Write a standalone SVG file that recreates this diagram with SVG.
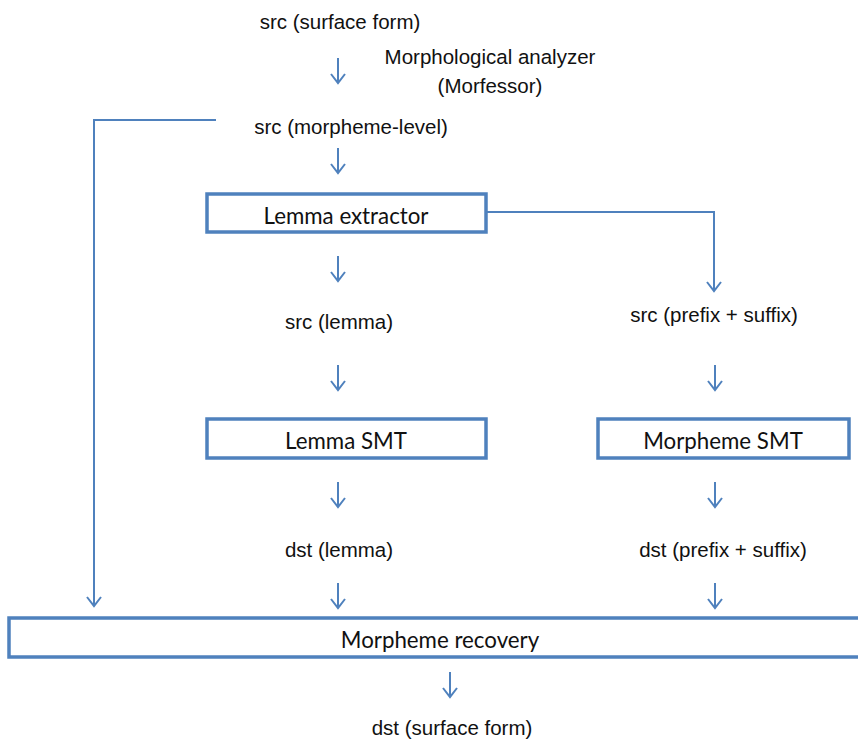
<svg xmlns="http://www.w3.org/2000/svg" width="858" height="743" viewBox="0 0 858 743">
  <style>
    .lbl { font-family: "Liberation Sans", Arial, sans-serif; font-size: 20.5px; fill: #111; text-anchor: middle; }
    .box rect { fill: #fff; stroke: #4F81BD; stroke-width: 3.5; }
    .box text { font-family: Lato, "Open Sans", sans-serif; font-size: 22.3px; fill: #111; text-anchor: middle; }
    .conn path { fill: none; stroke: #4F81BD; stroke-width: 2; }
  </style>
  <defs>
    <!-- short down arrow: shaft with open chevron -->
    <path id="dn" d="M0,0 V25 M-7,16 L0,25 L7,16" fill="none" stroke="#4F81BD" stroke-width="2"/>
  </defs>

  <!-- plain labels -->
  <g id="src-surface"><text class="lbl" x="340" y="29">src (surface form)</text></g>
  <g id="analyzer"><text class="lbl" x="490" y="64">Morphological analyzer</text><text class="lbl" x="490" y="93">(Morfessor)</text></g>
  <g id="src-morpheme"><text class="lbl" x="351" y="134">src (morpheme-level)</text></g>
  <g id="src-lemma"><text class="lbl" x="339" y="329">src (lemma)</text></g>
  <g id="src-affix"><text class="lbl" x="714" y="322">src (prefix + suffix)</text></g>
  <g id="dst-lemma"><text class="lbl" x="339" y="557">dst (lemma)</text></g>
  <g id="dst-affix"><text class="lbl" x="723" y="557">dst (prefix + suffix)</text></g>
  <g id="dst-surface"><text class="lbl" x="452" y="735">dst (surface form)</text></g>

  <!-- processing boxes -->
  <g id="lemma-extractor" class="box"><rect x="207" y="194" width="279" height="38"/><text x="346" y="224">Lemma extractor</text></g>
  <g id="lemma-smt" class="box"><rect x="207" y="419" width="279" height="39"/><text x="346" y="449">Lemma SMT</text></g>
  <g id="morpheme-smt" class="box"><rect x="598" y="419" width="251" height="39"/><text x="723" y="449">Morpheme SMT</text></g>
  <g id="morpheme-recovery" class="box"><rect x="9" y="618" width="860" height="39"/><text x="440" y="648">Morpheme recovery</text></g>

  <!-- connectors -->
  <g id="connectors" class="conn">
    <path d="M216,120 H94 V606 M87,597 L94,606 L101,597"/>
    <path d="M486,212 H714 V291 M707,282 L714,291 L721,282"/>
    <use href="#dn" x="338" y="58"/>
    <use href="#dn" x="338" y="148"/>
    <use href="#dn" x="338" y="256"/>
    <use href="#dn" x="338" y="365"/>
    <use href="#dn" x="715" y="365"/>
    <use href="#dn" x="338" y="482"/>
    <use href="#dn" x="715" y="482"/>
    <use href="#dn" x="338" y="583"/>
    <use href="#dn" x="715" y="583"/>
    <use href="#dn" x="450" y="672"/>
  </g>
</svg>
